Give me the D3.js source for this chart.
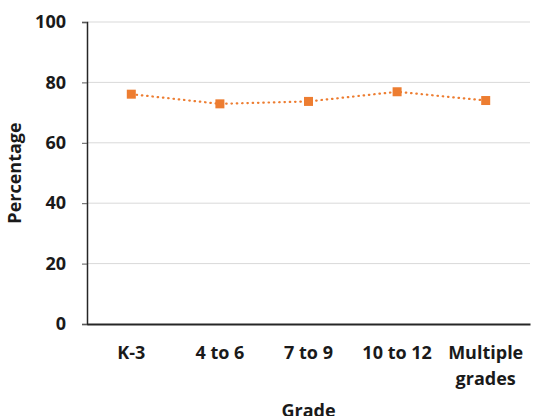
<!DOCTYPE html>
<html>
<head>
<meta charset="utf-8">
<script src="https://cdn.jsdelivr.net/npm/d3@7"></script>
<style>
  body { margin: 0; background: #fff; }
</style>
</head>
<body>
<div id="chart"></div>
<script>
// Chart data
const grades = ['K-3', '4 to 6', '7 to 9', '10 to 12', 'Multiple grades'];
const percentages = [76.1, 72.9, 73.7, 76.9, 74.0];
const yTicks = [0, 20, 40, 60, 80, 100];

const width = 534, height = 416;
const margin = { top: 22, right: 4, bottom: 92, left: 87 };
const FONT = '"Open Sans", "Liberation Sans", Arial, sans-serif';

const svg = d3.select('#chart').append('svg')
    .attr('width', width)
    .attr('height', height)
    .style('display', 'block');

const x = d3.scaleBand()
    .domain(grades)
    .range([margin.left, width - margin.right]);

const y = d3.scaleLinear()
    .domain([0, 100])
    .range([height - margin.bottom, margin.top]);

// Gridlines
svg.append('g')
    .selectAll('line')
    .data(yTicks.filter(d => d > 0))
    .join('line')
    .attr('x1', margin.left)
    .attr('x2', width - margin.right)
    .attr('y1', d => y(d))
    .attr('y2', d => y(d))
    .attr('stroke', '#d9d9d9')
    .attr('stroke-width', 1);

// Y axis
const yAxis = svg.append('g')
    .attr('transform', `translate(${margin.left},0)`)
    .call(d3.axisLeft(y).tickValues(yTicks).tickSize(5).tickPadding(16))
    .attr('font-family', FONT)
    .attr('font-size', 18);
yAxis.select('.domain').attr('stroke', '#262626').attr('stroke-width', 1.5);
yAxis.selectAll('.tick line').attr('stroke', '#595959');
yAxis.selectAll('.tick text')
    .attr('font-weight', 'bold')
    .attr('fill', '#1a1a1a');

// X axis
const xAxis = svg.append('g')
    .attr('transform', `translate(0,${y(0)})`)
    .call(d3.axisBottom(x).tickSize(0).tickPadding(0))
    .attr('font-family', FONT)
    .attr('font-size', 18);
xAxis.select('.domain').attr('stroke', '#262626').attr('stroke-width', 2);
xAxis.selectAll('.tick text').remove();
xAxis.selectAll('.tick').each(function (d) {
    const words = d === 'Multiple grades' ? ['Multiple', 'grades'] : [d];
    const t = d3.select(this).append('text')
        .attr('fill', '#1a1a1a')
        .attr('font-weight', 'bold')
        .attr('text-anchor', 'middle');
    words.forEach((w, i) => {
        t.append('tspan')
            .attr('x', 0)
            .attr('y', 35 + i * 26)
            .text(w);
    });
});

// Axis titles
svg.append('text')
    .attr('x', (margin.left + width - margin.right) / 2)
    .attr('y', 417)
    .attr('text-anchor', 'middle')
    .attr('font-family', FONT)
    .attr('font-size', 18)
    .attr('font-weight', 'bold')
    .attr('fill', '#1a1a1a')
    .text('Grade');

svg.append('text')
    .attr('transform', `translate(21,${(y(0) + y(100)) / 2}) rotate(-90)`)
    .attr('text-anchor', 'middle')
    .attr('font-family', FONT)
    .attr('font-size', 18)
    .attr('font-weight', 'bold')
    .attr('fill', '#1a1a1a')
    .text('Percentage');

// Line and markers
const cx = d => x(d) + x.bandwidth() / 2;
const points = grades.map((g, i) => ({ g, v: percentages[i] }));

svg.append('path')
    .datum(points)
    .attr('fill', 'none')
    .attr('stroke', '#ed7d31')
    .attr('stroke-width', 2.2)
    .attr('stroke-linecap', 'round')
    .attr('stroke-dasharray', '0.5,4.8')
    .attr('d', d3.line().x(d => cx(d.g)).y(d => y(d.v)));

svg.append('g')
    .selectAll('rect')
    .data(points)
    .join('rect')
    .attr('x', d => cx(d.g) - 4.5)
    .attr('y', d => y(d.v) - 4.5)
    .attr('width', 9)
    .attr('height', 9)
    .attr('fill', '#ed7d31');
</script>
</body>
</html>
